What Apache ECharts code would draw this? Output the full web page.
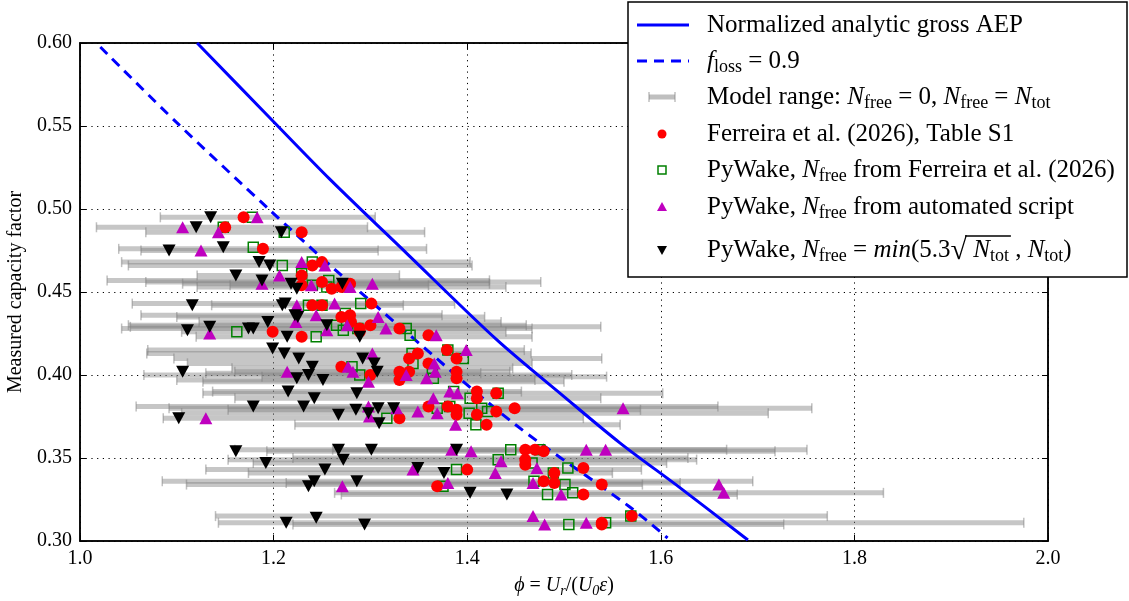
<!DOCTYPE html>
<html><head><meta charset="utf-8">
<script src="https://cdn.jsdelivr.net/npm/echarts@6/dist/echarts.min.js"></script>
<style>html,body{margin:0;padding:0;background:#fff}#c{width:1129px;height:601px}</style>
</head><body><div id="c"></div>
<script>
// ---- data ----
const xTicks = [1.0, 1.2, 1.4, 1.6, 1.8, 2.0];
const yTicks = [0.30, 0.35, 0.40, 0.45, 0.50, 0.55, 0.60];
const analyticPhi = [1.121, 1.196, 1.258, 1.338, 1.431, 1.500, 1.558, 1.620, 1.690];
const analyticCF  = [0.600, 0.555, 0.518, 0.473, 0.421, 0.387, 0.359, 0.332, 0.3006];
const lossPhi = [1.021, 1.100, 1.196, 1.258, 1.338, 1.450, 1.568, 1.607];
const lossCF  = [0.5976, 0.552, 0.4994, 0.4663, 0.4253, 0.370, 0.3205, 0.3018];
// model range bars: [cf, phi(N_free=0), phi(N_free=N_tot)]
const modelRange = [
 [0.495,1.083,1.305],[0.489,1.017,1.297],[0.486,1.068,1.356],[0.476,1.040,1.358],[0.475,1.063,1.308],
 [0.468,1.043,1.403],[0.466,1.050,1.405],[0.460,1.121,1.330],[0.457,1.028,1.423],[0.456,1.068,1.476],
 [0.455,1.106,1.423],[0.454,1.155,1.360],[0.453,1.121,1.440],[0.443,1.054,1.387],[0.442,1.136,1.334],
 [0.436,1.063,1.374],[0.435,1.100,1.418],[0.432,1.123,1.435],[0.430,1.050,1.461],[0.429,1.052,1.538],
 [0.428,1.043,1.467],[0.426,1.105,1.440],[0.423,1.120,1.467],[0.415,1.070,1.459],[0.413,1.069,1.466],
 [0.410,1.097,1.539],[0.407,1.111,1.467],[0.404,1.157,1.447],[0.402,1.160,1.444],[0.401,1.130,1.414],
 [0.400,1.066,1.508],[0.399,1.188,1.544],[0.397,1.100,1.470],[0.396,1.127,1.500],[0.390,1.137,1.456],
 [0.389,1.127,1.602],[0.386,1.160,1.538],[0.381,1.058,1.659],[0.380,1.092,1.756],[0.379,1.153,1.579],
 [0.377,1.105,1.711],[0.374,1.086,1.520],[0.370,1.222,1.558],[0.355,1.160,1.751],[0.354,1.193,1.718],
 [0.355,1.261,1.668],[0.350,1.220,1.628],[0.349,1.153,1.637],[0.347,1.179,1.606],[0.343,1.130,1.580],
 [0.341,1.174,1.550],[0.336,1.085,1.695],[0.334,1.110,1.581],[0.335,1.213,1.620],[0.329,1.263,1.830],
 [0.328,1.270,1.679],[0.315,1.140,1.772],[0.311,1.143,1.975],[0.310,1.220,1.727]
];
// [phi, cf]
const ferreira = [
 [1.169,0.495],[1.150,0.489],[1.229,0.486],[1.189,0.476],[1.240,0.466],[1.250,0.468],[1.229,0.460],
 [1.229,0.454],[1.250,0.456],[1.260,0.452],[1.270,0.453],[1.279,0.455],[1.240,0.442],[1.250,0.442],
 [1.301,0.443],[1.270,0.435],[1.279,0.436],[1.280,0.432],[1.199,0.426],[1.229,0.423],[1.289,0.428],
 [1.289,0.426],[1.300,0.430],[1.330,0.428],[1.360,0.424],[1.349,0.413],[1.340,0.410],[1.360,0.407],
 [1.330,0.402],[1.340,0.402],[1.330,0.397],[1.270,0.405],[1.300,0.400],[1.379,0.415],[1.389,0.410],
 [1.389,0.402],[1.389,0.398],[1.410,0.390],[1.410,0.386],[1.430,0.389],[1.360,0.381],[1.380,0.381],
 [1.389,0.379],[1.389,0.376],[1.410,0.376],[1.430,0.378],[1.449,0.380],[1.420,0.370],[1.330,0.374],
 [1.460,0.355],[1.470,0.355],[1.479,0.354],[1.460,0.349],[1.460,0.346],[1.400,0.343],[1.520,0.344],
 [1.369,0.333],[1.479,0.336],[1.490,0.341],[1.490,0.335],[1.539,0.334],[1.520,0.328],[1.539,0.311],
 [1.539,0.310],[1.570,0.315]
];
const pywakeFerreira = [
 [1.178,0.495],[1.148,0.489],[1.211,0.486],[1.179,0.477],[1.209,0.466],[1.240,0.468],[1.229,0.461],
 [1.240,0.454],[1.255,0.453],[1.257,0.457],[1.272,0.454],[1.236,0.442],[1.250,0.442],[1.290,0.443],
 [1.274,0.437],[1.162,0.426],[1.244,0.423],[1.265,0.430],[1.272,0.427],[1.287,0.428],[1.337,0.428],
 [1.341,0.424],[1.343,0.413],[1.344,0.407],[1.281,0.405],[1.289,0.400],[1.364,0.402],[1.365,0.398],
 [1.380,0.415],[1.396,0.410],[1.386,0.390],[1.403,0.386],[1.432,0.389],[1.369,0.380],[1.382,0.381],
 [1.402,0.377],[1.415,0.380],[1.421,0.378],[1.409,0.370],[1.317,0.374],[1.445,0.355],[1.475,0.355],
 [1.432,0.349],[1.467,0.347],[1.389,0.343],[1.504,0.344],[1.375,0.333],[1.469,0.336],[1.489,0.341],
 [1.501,0.334],[1.483,0.328],[1.509,0.329],[1.505,0.310],[1.543,0.311],[1.569,0.315]
];
const pywakeScript = [
 [1.183,0.495],[1.106,0.489],[1.143,0.486],[1.125,0.475],[1.229,0.468],[1.253,0.466],[1.206,0.460],
 [1.188,0.455],[1.239,0.454],[1.279,0.453],[1.302,0.455],[1.224,0.442],[1.263,0.443],[1.244,0.436],
 [1.308,0.435],[1.223,0.432],[1.134,0.425],[1.255,0.427],[1.276,0.430],[1.316,0.428],[1.368,0.424],
 [1.302,0.413],[1.277,0.405],[1.282,0.402],[1.298,0.396],[1.214,0.402],[1.337,0.400],[1.358,0.398],
 [1.366,0.407],[1.367,0.402],[1.399,0.415],[1.382,0.390],[1.390,0.389],[1.365,0.386],[1.349,0.378],
 [1.369,0.377],[1.298,0.381],[1.299,0.375],[1.327,0.380],[1.388,0.370],[1.561,0.380],[1.130,0.374],
 [1.384,0.355],[1.404,0.354],[1.523,0.355],[1.543,0.355],[1.435,0.348],[1.344,0.343],[1.429,0.341],
 [1.472,0.344],[1.380,0.335],[1.271,0.333],[1.468,0.335],[1.497,0.328],[1.660,0.334],[1.665,0.329],
 [1.468,0.315],[1.480,0.310],[1.523,0.311]
];
const pywakeSqrt = [
 [1.135,0.495],[1.120,0.489],[1.208,0.486],[1.092,0.475],[1.148,0.477],[1.185,0.468],[1.196,0.466],
 [1.161,0.460],[1.188,0.457],[1.218,0.455],[1.224,0.452],[1.271,0.455],[1.116,0.442],[1.209,0.442],
 [1.212,0.443],[1.222,0.436],[1.225,0.435],[1.194,0.432],[1.111,0.427],[1.134,0.429],[1.174,0.428],
 [1.179,0.428],[1.255,0.430],[1.214,0.423],[1.289,0.423],[1.199,0.416],[1.211,0.413],[1.226,0.410],
 [1.240,0.405],[1.292,0.410],[1.304,0.407],[1.307,0.402],[1.106,0.402],[1.224,0.398],[1.236,0.400],
 [1.251,0.397],[1.215,0.390],[1.242,0.386],[1.286,0.389],[1.179,0.381],[1.231,0.381],[1.267,0.376],
 [1.285,0.379],[1.298,0.377],[1.308,0.380],[1.324,0.380],[1.309,0.371],[1.102,0.374],[1.161,0.354],
 [1.267,0.355],[1.272,0.349],[1.192,0.347],[1.253,0.343],[1.242,0.336],[1.236,0.333],[1.286,0.336],
 [1.301,0.355],[1.389,0.355],[1.349,0.344],[1.376,0.341],[1.403,0.329],[1.441,0.328],[1.213,0.311],
 [1.244,0.314],[1.294,0.310]
];

// ---- chart ----
const SERIF = 'Liberation Serif';
const chart = echarts.init(document.getElementById('c'), null, {renderer: 'canvas'});
const zipXY = (xs, ys) => xs.map((x, i) => [x, ys[i]]);
const dotted = {type: [1.2, 4.5], color: '#000', width: 1};
const axisLbl = {color: '#000', fontFamily: SERIF, fontSize: 20};

function renderBar(params, api) {
  const cf = api.value(0), lo = api.value(1), hi = api.value(2);
  const a = api.coord([lo, cf]), b = api.coord([hi, cf]);
  const cap = 5;
  return {type: 'group', children: [
    {type: 'line', shape: {x1: a[0], y1: a[1], x2: b[0], y2: b[1]},
     style: {stroke: 'rgba(128,128,128,0.45)', lineWidth: 5}},
    {type: 'line', shape: {x1: a[0], y1: a[1] - cap, x2: a[0], y2: a[1] + cap},
     style: {stroke: 'rgba(128,128,128,0.5)', lineWidth: 1.5}},
    {type: 'line', shape: {x1: b[0], y1: b[1] - cap, x2: b[0], y2: b[1] + cap},
     style: {stroke: 'rgba(128,128,128,0.5)', lineWidth: 1.5}}
  ]};
}

const LF = 25;
const sub = {fontFamily: SERIF, fontSize: 18, padding: [12, 0, 0, 0]};
const it = {fontFamily: SERIF, fontSize: LF, fontStyle: 'italic'};
const rm = {fontFamily: SERIF, fontSize: LF};
const legendRich = {sub: sub, i: it, t: rm, sq: {fontFamily: SERIF, fontSize: 30, padding: [2, 0, 0, 0]}};
const LX = 707;
const rows = [25, 61, 97, 134, 170, 207, 250];
const legendTexts = [
  'Normalized analytic gross AEP',
  '{i|f}{sub|loss}{t| = 0.9}',
  '{t|Model range: }{i|N}{sub|free}{t| = 0, }{i|N}{sub|free}{t| = }{i|N}{sub|tot}',
  'Ferreira et al. (2026), Table S1',
  '{t|PyWake, }{i|N}{sub|free}{t| from Ferreira et al. (2026)}',
  '{t|PyWake, }{i|N}{sub|free}{t| from automated script}',
  '{t|PyWake, }{i|N}{sub|free}{t| = }{i|min}{t|(5.3}{sq|√}{i| N}{sub|tot}{t| , }{i|N}{sub|tot}{t|)}'
];
const graphic = [
  {type: 'rect', z: 100, shape: {x: 628, y: 2, width: 499, height: 275},
   style: {fill: '#fff', stroke: '#000', lineWidth: 1.5}},
  {type: 'line', z: 101, shape: {x1: 637, y1: rows[0], x2: 689, y2: rows[0]}, style: {stroke: '#0000ff', lineWidth: 3}},
  {type: 'line', z: 101, shape: {x1: 637, y1: rows[1], x2: 689, y2: rows[1]}, style: {stroke: '#0000ff', lineWidth: 3, lineDash: [10, 7]}},
  {type: 'line', z: 101, shape: {x1: 649, y1: rows[2], x2: 675, y2: rows[2]}, style: {stroke: 'rgba(128,128,128,0.5)', lineWidth: 5}},
  {type: 'line', z: 101, shape: {x1: 649, y1: rows[2]-5, x2: 649, y2: rows[2]+5}, style: {stroke: 'rgba(128,128,128,0.5)', lineWidth: 1.5}},
  {type: 'line', z: 101, shape: {x1: 675, y1: rows[2]-5, x2: 675, y2: rows[2]+5}, style: {stroke: 'rgba(128,128,128,0.5)', lineWidth: 1.5}},
  {type: 'circle', z: 101, shape: {cx: 662, cy: rows[3], r: 4.5}, style: {fill: '#ff0000'}},
  {type: 'rect', z: 101, shape: {x: 658, y: rows[4]-4, width: 8, height: 8}, style: {fill: 'none', stroke: '#008000', lineWidth: 1.5}},
  {type: 'polygon', z: 101, shape: {points: [[662, rows[5]-5], [667, rows[5]+4], [657, rows[5]+4]]}, style: {fill: '#bf00bf'}},
  {type: 'polygon', z: 101, shape: {points: [[662, rows[6]+5], [667, rows[6]-4], [657, rows[6]-4]]}, style: {fill: '#000'}}
];
legendTexts.forEach((t, k) => {
  graphic.push({type: 'text', z: 102, x: LX, y: rows[k],
    style: {text: t, fill: '#000', fontFamily: SERIF, fontSize: LF, verticalAlign: 'middle', rich: legendRich}});
});

const option = {
  animation: false,
  backgroundColor: '#fff',
  grid: {left: 80, top: 43, right: 81, bottom: 60, outerBoundsMode: 'none', containLabel: false,
         show: true, borderColor: '#000', borderWidth: 1.5, backgroundColor: 'transparent'},
  xAxis: [
    {type: 'value', min: xTicks[0], max: xTicks[xTicks.length-1], interval: 0.2, position: 'bottom',
     axisLine: {show: true, onZero: false, lineStyle: {color: '#000', width: 1.5}},
     axisTick: {show: true, inside: true, length: 6, lineStyle: {color: '#000'}},
     axisLabel: Object.assign({formatter: v => v.toFixed(1), margin: 8}, axisLbl),
     splitLine: {show: true, lineStyle: dotted},
     name: '{i|ϕ}{t| = }{i|U}{s|r}{t|/(}{i|U}{s|0}{i|ε}{t|)}', nameLocation: 'middle', nameGap: 33,
     nameTextStyle: {color: '#000', fontFamily: SERIF, fontSize: 20, rich: {
       i: {fontFamily: SERIF, fontSize: 20, fontStyle: 'italic'}, t: {fontFamily: SERIF, fontSize: 20},
       s: {fontFamily: SERIF, fontSize: 14, fontStyle: 'italic', padding: [10, 0, 0, 0]}}}},
    {type: 'value', min: xTicks[0], max: xTicks[xTicks.length-1], interval: 0.2, position: 'top',
     axisLine: {show: true, onZero: false, lineStyle: {color: '#000', width: 1.5}},
     axisTick: {show: true, inside: true, length: 6, lineStyle: {color: '#000'}},
     axisLabel: {show: false}, splitLine: {show: false}}
  ],
  yAxis: [
    {type: 'value', min: yTicks[0], max: yTicks[yTicks.length-1], interval: 0.05, position: 'left',
     axisLine: {show: true, onZero: false, lineStyle: {color: '#000', width: 1.5}},
     axisTick: {show: true, inside: true, length: 6, lineStyle: {color: '#000'}},
     axisLabel: Object.assign({formatter: v => v.toFixed(2), margin: 8}, axisLbl),
     splitLine: {show: true, lineStyle: dotted},
     name: 'Measured capacity factor', nameLocation: 'middle', nameGap: 54,
     nameTextStyle: {color: '#000', fontFamily: SERIF, fontSize: 20}},
    {type: 'value', min: yTicks[0], max: yTicks[yTicks.length-1], interval: 0.05, position: 'right',
     axisLine: {show: true, onZero: false, lineStyle: {color: '#000', width: 1.5}},
     axisTick: {show: true, inside: true, length: 6, lineStyle: {color: '#000'}},
     axisLabel: {show: false}, splitLine: {show: false}}
  ],
  series: [
    {name: 'Model range', type: 'custom', z: 1, renderItem: renderBar, data: modelRange,
     encode: {x: [1, 2], y: 0}, clip: true},
    {name: 'Normalized analytic gross AEP', type: 'line', z: 2, data: zipXY(analyticPhi, analyticCF),
     smooth: 0.3, showSymbol: false, clip: true, lineStyle: {color: '#0000ff', width: 3}},
    {name: 'f_loss = 0.9', type: 'line', z: 2, data: zipXY(lossPhi, lossCF),
     smooth: 0.3, showSymbol: false, clip: true, lineStyle: {color: '#0000ff', width: 3, type: [10, 7]}},
    {name: 'PyWake, N_free from Ferreira', type: 'scatter', z: 3, data: pywakeFerreira, symbol: 'rect', symbolSize: 10,
     itemStyle: {color: 'rgba(0,0,0,0)', borderColor: '#008000', borderWidth: 1.5, opacity: 1}},
    {name: 'Ferreira et al. (2026), Table S1', type: 'scatter', z: 4, data: ferreira, symbol: 'circle', symbolSize: 12,
     itemStyle: {color: '#ff0000', opacity: 1}},
    {name: 'PyWake, N_free from automated script', type: 'scatter', z: 5, data: pywakeScript, symbol: 'triangle', symbolSize: [13, 12],
     itemStyle: {color: '#bf00bf', opacity: 1}},
    {name: 'PyWake, N_free = min(5.3 sqrt(N_tot), N_tot)', type: 'scatter', z: 6, data: pywakeSqrt, symbol: 'triangle', symbolRotate: 180, symbolSize: [13, 12],
     itemStyle: {color: '#000', opacity: 1}}
  ],
  graphic: graphic
};
chart.setOption(option);

// overline of the square root in the last legend entry, placed after measuring the text
(function addOverline() {
  const measure = (txt, font) => { const c = document.createElement('canvas').getContext('2d'); c.font = font; return c.measureText(txt).width; };
  const fR = LF + 'px "' + SERIF + '"', fI = 'italic ' + LF + 'px "' + SERIF + '"', fS = '18px "' + SERIF + '"', fQ = '30px "' + SERIF + '"';
  const x0 = LX + measure('PyWake, ', fR) + measure('N', fI) + measure('free', fS) + measure(' = ', fR)
           + measure('min', fI) + measure('(5.3', fR);
  const xs = x0 + measure('√', fQ) - 2;
  const xe = xs + 2 + measure(' N', fI) + measure('tot', fS) + 2;
  chart.setOption({graphic: graphic.concat([{type: 'line', z: 103, shape: {x1: xs, y1: rows[6] - 14, x2: xe, y2: rows[6] - 14}, style: {stroke: '#000', lineWidth: 1.3}}])});
})();
</script>
</body></html>
